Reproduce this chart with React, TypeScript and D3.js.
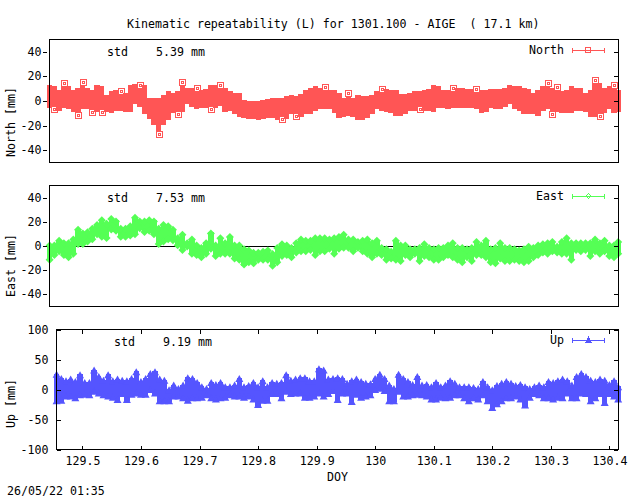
import * as d3 from 'd3'

const width = 640
const height = 496
const monoFont = '"DejaVu Sans Mono", "Liberation Mono", monospace'

const title = 'Kinematic repeatability (L) for 1301.100 - AIGE  ( 17.1 km)'
const stamp = '26/05/22 01:35'

const doy = [
  129.455, 129.463, 129.471, 129.479, 129.487, 129.495, 129.503, 129.511, 129.519, 129.527, 129.535,
  129.543, 129.551, 129.559, 129.567, 129.575, 129.583, 129.591, 129.599, 129.607, 129.615,
  129.623, 129.631, 129.639, 129.647, 129.655, 129.663, 129.671, 129.679, 129.687, 129.695,
  129.703, 129.711, 129.719, 129.727, 129.735, 129.743, 129.751, 129.759, 129.767, 129.775,
  129.783, 129.791, 129.799, 129.807, 129.815, 129.823, 129.831, 129.839, 129.847, 129.855,
  129.863, 129.871, 129.879, 129.887, 129.895, 129.903, 129.911, 129.919, 129.927, 129.935,
  129.943, 129.951, 129.959, 129.967, 129.975, 129.983, 129.991, 129.999, 130.007, 130.015,
  130.023, 130.031, 130.039, 130.047, 130.055, 130.063, 130.071, 130.079, 130.087, 130.095,
  130.103, 130.111, 130.119, 130.127, 130.135, 130.143, 130.151, 130.159, 130.167, 130.175,
  130.183, 130.191, 130.199, 130.207, 130.215, 130.223, 130.231, 130.239, 130.247, 130.255,
  130.263, 130.271, 130.279, 130.287, 130.295, 130.303, 130.311, 130.319, 130.327, 130.335,
  130.343, 130.351, 130.359, 130.367, 130.375, 130.383, 130.391, 130.399, 130.407, 130.414,
]

const northHigh = [
  12, 11, 8, 16, 11, 8, 10, 17, 10, 8, 12, 11, 4, 7, 8, 10, 6, 12, 13, 15,
  12, 2, 2, 2, 4, 7, 6, 7, 17, 10, 10, 12, 8, 9, 12, 12, 15, 10, 7, 6,
  6, 0, -1, -1, -1, 0, 1, 2, 2, 2, 3, 4, 3, 5, 8, 10, 11, 10, 13, 8,
  8, 6, 2, 8, 2, 4, 3, 3, 4, 7, 11, 9, 8, 8, 5, 5, 6, 7, 7, 8,
  9, 12, 11, 8, 8, 12, 10, 10, 9, 9, 11, 8, 8, 9, 9, 9, 10, 12, 11, 11,
  10, 9, 6, 8, 11, 16, 10, 13, 7, 8, 11, 10, 10, 6, 8, 19, 14, 10, 11, 15, 8,
]
const northLow = [
  -5, -9, -7, -5, -6, -8, -14, -6, -6, -11, -8, -11, -8, -9, -7, -7, -8, -8, -2, -4,
  -10, -14, -19, -29, -19, -15, -9, -13, -8, -2, -4, -6, -5, -5, -9, -5, -3, -8, -7, -10,
  -12, -13, -14, -14, -15, -14, -13, -13, -15, -17, -14, -10, -15, -12, -10, -10, -7, -6, -6, -6,
  -9, -13, -12, -11, -12, -15, -15, -13, -10, -6, -7, -8, -9, -11, -11, -10, -7, -7, -9, -7,
  -7, -8, -5, -5, -6, -5, -5, -5, -5, -5, -6, -9, -8, -5, -6, -6, -4, -2, -6, -7,
  -10, -10, -10, -11, -7, -6, -13, -8, -9, -9, -9, -7, -7, -8, -12, -12, -15, -9, -6, -9, -8,
]

const eastHigh = [
  2, 2, 6, 4, 4, 7, 15, 12, 13, 16, 19, 23, 20, 24, 22, 16, 16, 18, 25, 22,
  22, 23, 22, 16, 19, 18, 15, 8, 11, 4, 7, 2, 0, 4, 12, 2, 8, 4, 9, 2,
  2, -1, -2, -4, -4, -3, -2, -5, 0, 3, 2, 0, 4, 7, 6, 6, 8, 8, 8, 7,
  8, 9, 11, 7, 7, 5, 6, 7, 4, 6, 0, -1, -3, 6, 2, 2, -1, -1, 0, 3,
  0, -1, 0, 0, 2, 4, 0, 0, -1, 0, 5, 2, 6, -1, 0, 4, 0, 0, -1, -2,
  -1, 1, 0, 2, 3, 4, 5, 1, 5, 8, 4, 4, 4, 4, 4, 7, 4, 6, 2, 2, 5,
]
const eastLow = [
  -13, -9, -6, -9, -11, -8, 0, 0, 2, 4, 8, 6, 5, 12, 11, 6, 6, 7, 8, 13,
  10, 11, 8, 0, 2, 4, 3, -1, -5, -2, -8, -9, -11, -8, -4, -10, -8, -8, -8, -12,
  -13, -17, -15, -16, -13, -13, -13, -18, -15, -10, -9, -11, -7, -6, -6, -5, -9, -6, -6, -4,
  -8, -4, -3, -3, -6, -3, -6, -8, -11, -8, -9, -13, -12, -13, -14, -9, -11, -8, -14, -10,
  -11, -13, -13, -11, -9, -11, -13, -15, -11, -14, -9, -9, -11, -15, -16, -12, -14, -14, -13, -14,
  -15, -14, -11, -9, -7, -8, -6, -7, -8, -8, -13, -5, -6, -5, -10, -6, -8, -6, -10, -11, -8,
]

const upHigh = [
  28, 21, 17, 20, 16, 27, 14, 14, 35, 24, 18, 27, 17, 20, 18, 17, 21, 32, 16, 21,
  29, 32, 20, 18, 2, 10, 4, 10, 22, 21, 14, 7, 4, 14, 11, 14, 7, 7, 10, 21,
  7, 9, 14, 7, 17, 7, 14, 13, 14, 27, 18, 20, 22, 22, 17, 17, 37, 35, 20, 21,
  22, 21, 13, 17, 20, 16, 13, 12, 21, 28, 21, 10, 4, 28, 21, 16, 11, 24, 10, 11,
  7, 14, 7, 10, 17, 13, 7, 7, 7, 6, 4, 16, 7, 2, 9, 13, 16, 13, 9, 11,
  7, 4, 7, 10, 7, 16, 14, 17, 20, 17, 10, 24, 29, 24, 18, 16, 20, 18, 11, 17, 7,
]
const upLow = [
  -23, -22, -15, -15, -18, -13, -12, -13, -7, -10, -13, -15, -17, -21, -11, -21, -12, -10, -12, -12,
  -4, -10, -23, -23, -23, -15, -15, -18, -22, -18, -18, -17, -13, -18, -20, -18, -17, -13, -15, -15,
  -17, -15, -20, -29, -22, -22, -11, -11, -18, -7, -11, -10, -10, -17, -17, -15, -10, -15, -11, -6,
  -21, -10, -10, -24, -12, -17, -15, -13, -4, -2, -6, -23, -23, -7, -15, -15, -13, -12, -13, -15,
  -20, -20, -17, -18, -17, -13, -13, -18, -23, -18, -20, -13, -23, -34, -28, -23, -18, -18, -15, -20,
  -30, -17, -11, -13, -18, -18, -20, -17, -18, -10, -18, -18, -10, -11, -23, -18, -11, -26, -11, -15, -20,
]

const northTicks = [-40, -20, 0, 20, 40]
const eastTicks = [-40, -20, 0, 20, 40]
const upTicks = [-100, -50, 0, 50, 100]
const doyTicks = [129.5, 129.6, 129.7, 129.8, 129.9, 130, 130.1, 130.2, 130.3, 130.4]

type Marker = 'square' | 'diamond' | 'triangle'

type PanelProps = {
  name: string
  std: string
  high: number[]
  low: number[]
  ticks: number[]
  yDomain: [number, number]
  color: string
  marker: Marker
  left: number
  top: number
  bottom: number
  labelStart: number
  tickOutside: boolean
  showX?: boolean
}

const xDomain: [number, number] = [129.4548, 130.4137]
const right = 618

function Label(props: React.SVGProps<SVGTextElement>) {
  return <text fontFamily={monoFont} fontSize={11.62} fill="#000" dominantBaseline="central" xmlSpace="preserve" style={{ whiteSpace: 'pre' }} {...props} />
}

function markerPath(marker: Marker, cx: number, cy: number) {
  if (marker === 'square') return `M${cx - 3},${cy - 3}h6v6h-6Z M${cx - 1},${cy - 1}h2v2h-2Z`
  if (marker === 'diamond') return `M${cx},${cy - 4}L${cx + 4},${cy}L${cx},${cy + 4}L${cx - 4},${cy}Z`
  return `M${cx},${cy - 4}L${cx + 4},${cy + 3}L${cx - 4},${cy + 3}Z`
}

function Panel({
  name, std, high, low, ticks, yDomain, color, marker, left, top, bottom, labelStart, tickOutside, showX,
}: PanelProps) {
  const x = d3.scaleLinear().domain(xDomain).range([left, right])
  const y = d3.scaleLinear().domain(yDomain).range([bottom, top])
  const barWidth = (right - left) / (doy.length - 1) + 0.6
  const legendY = top + 10
  const zeroY = Math.round(y(0)) + 0.5

  return (
    <g>
      <line x1={left} x2={right} y1={zeroY} y2={zeroY} stroke="#000" shapeRendering="crispEdges" />

      {doy.map((d, i) => {
        const cx = x(d)
        const yHigh = y(high[i]) - 1
        const yLow = y(low[i]) + 1
        const prevHigh = high[i - 1] ?? high[i]
        const nextHigh = high[i + 1] ?? high[i]
        const prevLow = low[i - 1] ?? low[i]
        const nextLow = low[i + 1] ?? low[i]
        if (marker === 'square') {
          // hollow squares only stick out where a sample pokes past its neighbours
          const spikeTop = high[i] >= Math.max(prevHigh, nextHigh) + 2
          const spikeBottom = low[i] <= Math.min(prevLow, nextLow) - 2
          const barTop = spikeTop ? yHigh + 6 : yHigh
          const barBottom = spikeBottom ? yLow - 6 : yLow
          return (
            <g key={d}>
              <rect
                x={cx - barWidth / 2}
                y={barTop}
                width={barWidth}
                height={Math.max(barBottom - barTop, 1)}
                fill={color}
                shapeRendering="crispEdges"
              />
              {spikeTop && (
                <path d={markerPath(marker, Math.round(cx) + 0.5, Math.round(yHigh) + 3.5)} fill="none" stroke={color} shapeRendering="crispEdges" />
              )}
              {spikeBottom && (
                <path d={markerPath(marker, Math.round(cx) + 0.5, Math.round(yLow) - 3.5)} fill="none" stroke={color} shapeRendering="crispEdges" />
              )}
            </g>
          )
        }
        return (
          <g key={d} fill={color}>
            <rect
              x={cx - barWidth / 2}
              y={yHigh + 2}
              width={barWidth}
              height={Math.max(yLow - yHigh - 4, 1)}
              shapeRendering="crispEdges"
            />
            <path d={markerPath(marker, cx, yHigh + 3)} />
            <path d={markerPath(marker, cx, yLow - 3)} />
          </g>
        )
      })}

      <rect x={left} y={top} width={right - left} height={bottom - top} fill="none" stroke="#000" shapeRendering="crispEdges" />

      {ticks.map((tick) => (
        <g key={tick}>
          <line
            x1={tickOutside ? left - 7 : left}
            x2={tickOutside ? left - 3 : left + 4}
            y1={Math.round(y(tick)) + 0.5}
            y2={Math.round(y(tick)) + 0.5}
            stroke="#000"
            shapeRendering="crispEdges"
          />
          <line
            x1={right - 4}
            x2={right}
            y1={Math.round(y(tick)) + 0.5}
            y2={Math.round(y(tick)) + 0.5}
            stroke="#000"
            shapeRendering="crispEdges"
          />
          <Label x={left - 8} y={y(tick)} textAnchor="end">
            {tick}
          </Label>
        </g>
      ))}

      {showX &&
        doyTicks.map((tick) => (
          <g key={tick}>
            <line x1={x(tick)} x2={x(tick)} y1={top} y2={top + 4} stroke="#000" shapeRendering="crispEdges" />
            <line x1={x(tick)} x2={x(tick)} y1={bottom - 4} y2={bottom} stroke="#000" shapeRendering="crispEdges" />
            <Label x={x(tick)} y={bottom + 11.5} textAnchor="middle">
              {tick}
            </Label>
          </g>
        ))}

      <Label x={left + 57.5} y={top + 12.5}>std</Label>
      <Label x={left + 106.5} y={top + 12.5}>{std} mm</Label>

      <Label x={564} y={legendY} textAnchor="end">{name}</Label>
      <g stroke={color} shapeRendering="crispEdges" fill="none">
        <line x1={572} x2={604} y1={legendY + 0.5} y2={legendY + 0.5} />
        <line x1={572.5} x2={572.5} y1={legendY - 2} y2={legendY + 3} />
        <line x1={604.5} x2={604.5} y1={legendY - 2} y2={legendY + 3} />
      </g>
      <path
        d={marker === 'square' ? `M585.5,${legendY - 2}h5v5h-5Z` : marker === 'diamond' ? `M588.5,${legendY - 2}l2.5,2.5l-2.5,2.5l-2.5,-2.5Z` : `M588.5,${legendY - 2}l2.5,4.5h-5Z`}
        fill={marker === 'triangle' ? color : 'none'}
        stroke={color}
        shapeRendering="crispEdges"
      />

      <Label transform={`translate(11, ${labelStart}) rotate(-90)`}>{`${name} [mm]`}</Label>
    </g>
  )
}

export default function App() {
  return (
    <svg
      width={width}
      height={height}
      viewBox={`0 0 ${width} ${height}`}
      style={{ position: 'absolute', left: 0, top: 0, background: '#fff' }}
    >
      <Label x={127} y={23.5}>{title}</Label>

      <Panel name="North" std="5.39" high={northHigh} low={northLow} ticks={northTicks} yDomain={[-50, 50]}
        color="#ff5555" marker="square" left={49.5} top={39.5} bottom={162.5} labelStart={157} tickOutside />
      <Panel name="East" std="7.53" high={eastHigh} low={eastLow} ticks={eastTicks} yDomain={[-50, 50]}
        color="#55ff55" marker="diamond" left={49.5} top={185.5} bottom={306.5} labelStart={297} tickOutside />
      <Panel name="Up" std="9.19" high={upHigh} low={upLow} ticks={upTicks} yDomain={[-100, 100]}
        color="#5555ff" marker="triangle" left={56.5} top={329.5} bottom={449.5} labelStart={428} tickOutside={false} showX />

      <Label x={327} y={476.5}>DOY</Label>
      <Label x={7} y={490.5}>{stamp}</Label>
    </svg>
  )
}
